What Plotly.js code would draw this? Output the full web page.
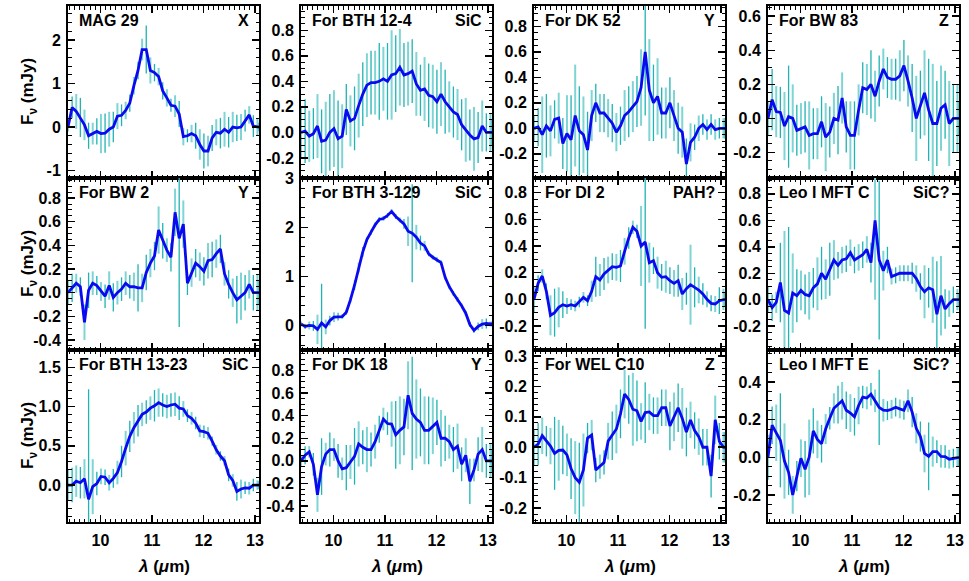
<!DOCTYPE html>
<html>
<head>
<meta charset="utf-8">
<script src="https://cdn.plot.ly/plotly-3.0.1.min.js"></script>
<style>body{margin:0;background:#fff}</style>
</head>
<body>
<div id="spectra" style="width:969px;height:581px"></div>
<script>
// wavelength grid (micron), shared by all panels
var wl = [9.37, 9.45, 9.53, 9.61, 9.69, 9.77, 9.85, 9.93, 10.01, 10.09,
  10.17, 10.25, 10.33, 10.41, 10.49, 10.57, 10.65, 10.73, 10.81, 10.89,
  10.97, 11.05, 11.13, 11.21, 11.29, 11.37, 11.45, 11.53, 11.61, 11.69,
  11.77, 11.85, 11.93, 12.01, 12.09, 12.17, 12.25, 12.33, 12.41, 12.49,
  12.57, 12.65, 12.73, 12.81, 12.89, 12.97, 13.05, 13.08]

// flux (mJy) and errors, one pair per star
var mag29 = [0.0, 0.45, 0.36, 0.22, 0.05, -0.2, -0.15, -0.1, -0.15, -0.14,
  -0.05, 0.0, 0.25, 0.27, 0.38, 0.55, 0.95, 1.3, 1.78, 1.78,
  1.3, 1.25, 1.16, 0.83, 0.67, 0.5, 0.48, 0.3, -0.22, -0.2,
  -0.15, -0.2, -0.4, -0.55, -0.55, -0.25, -0.12, -0.14, -0.05, -0.12,
  0.0, -0.02, 0.0, 0.15, 0.28, 0.02, 0.0, 0.0]
var err_mag29 = [0.1,0.25,0.4,0.45,0.35,0.3,0.25,0.3,0.45,0.45, 0.4,0.35,0.3,0.25,0.2,0.2,0.2,0.2,0.25,0.55,
  0.3,0.2,0.2,0.2,0.2,0.15,0.25,0.3,0.2,0.15, 0.2,0.3,0.35,0.4,0.35,0.3,0.3,0.35,0.4,0.35, 0.35,0.3,0.3,0.25,0.2,0.25,0.2,0.1]

var bth124 = [0.0, 0.01, -0.03, -0.01, 0.05, -0.07, -0.06, 0.0, 0.03, -0.05,
  -0.03, 0.18, 0.09, 0.11, 0.21, 0.3, 0.37, 0.39, 0.39, 0.4,
  0.42, 0.4, 0.45, 0.46, 0.51, 0.45, 0.46, 0.48, 0.38, 0.33,
  0.34, 0.29, 0.28, 0.24, 0.3, 0.24, 0.2, 0.16, 0.14, 0.06,
  0.02, -0.02, -0.05, -0.04, 0.05, 0.0, 0.0, 0.0]
var err_bth124 = [0.2,0.25,0.2,0.2,0.25,0.25,0.3,0.3,0.3,0.3, 0.25,0.2,0.2,0.25,0.25,0.25,0.25,0.25,0.25,0.3,
  0.25,0.3,0.35,0.3,0.3,0.25,0.25,0.25,0.25,0.2, 0.25,0.25,0.25,0.25,0.25,0.25,0.2,0.2,0.2,0.2, 0.25,0.2,0.25,0.2,0.2,0.15,0.15,0.1]

var dk52 = [0.0, 0.01, -0.05, 0.02, -0.02, 0.07, 0.08, -0.12, -0.04, -0.09,
  0.1, -0.02, -0.05, -0.17, 0.1, 0.2, 0.12, 0.12, 0.08, 0.04,
  -0.03, 0.02, 0.1, 0.13, 0.17, 0.21, 0.32, 0.6, 0.3, 0.2,
  0.25, 0.12, 0.12, 0.2, 0.1, 0.0, -0.03, -0.28, -0.11, -0.07,
  0.0, 0.03, -0.01, 0.03, -0.01, 0.0, 0.0, 0.0]
var err_dk52 = [0.1,0.15,0.3,0.25,0.2,0.15,0.2,0.2,0.3,0.35, 0.4,0.35,0.3,0.3,0.2,0.15,0.15,0.15,0.15,0.15,
  0.15,0.15,0.2,0.2,0.2,0.2,0.3,0.5,0.4,0.3, 0.3,0.2,0.2,0.2,0.2,0.2,0.2,0.2,0.15,0.1, 0.1,0.08,0.08,0.08,0.08,0.08,0.08,0.08]

var bw83 = [0.0, 0.11, 0.04, 0.035, -0.045, 0.01, 0.0, -0.07, -0.06, -0.05,
  -0.1, -0.09, -0.09, -0.02, -0.11, -0.08, 0.0, -0.01, 0.12, -0.05,
  -0.1, -0.1, 0.05, 0.18, 0.17, 0.2, 0.13, 0.22, 0.29, 0.24,
  0.23, 0.23, 0.25, 0.31, 0.22, 0.12, 0.0, 0.08, 0.15, 0.05,
  -0.03, -0.03, 0.06, 0.08, -0.03, 0.0, 0.0, 0.0]
var err_bw83 = [0.1,0.18,0.15,0.15,0.2,0.3,0.2,0.15,0.15,0.15, 0.2,0.15,0.15,0.15,0.2,0.15,0.15,0.2,0.15,0.15,
  0.2,0.2,0.15,0.15,0.15,0.2,0.15,0.15,0.12,0.12, 0.12,0.12,0.15,0.15,0.15,0.2,0.25,0.2,0.25,0.3, 0.35,0.25,0.25,0.2,0.25,0.2,0.2,0.1]

var bw2 = [0.0, 0.04, 0.08, 0.05, -0.25, 0.02, 0.08, 0.06, 0.01, -0.03,
  0.06, -0.04, 0.0, 0.03, 0.08, 0.05, 0.05, 0.04, 0.04, 0.17,
  0.25, 0.31, 0.53, 0.44, 0.36, 0.3, 0.68, 0.46, 0.58, 0.08,
  0.17, 0.25, 0.22, 0.18, 0.27, 0.28, 0.33, 0.37, 0.16, 0.07,
  0.0, -0.06, -0.03, 0.0, 0.07, 0.0, 0.0, 0.0]
var err_bw2 = [0.1,0.12,0.08,0.08,0.15,0.15,0.1,0.08,0.08,0.1, 0.12,0.12,0.1,0.1,0.1,0.1,0.12,0.2,0.12,0.15,
  0.12,0.12,0.2,0.15,0.1,0.12,0.2,0.75,0.2,0.1, 0.12,0.12,0.12,0.12,0.15,0.15,0.12,0.12,0.1,0.12, 0.12,0.2,0.2,0.15,0.12,0.15,0.15,0.1]

var bth3129 = [0.03, -0.02, 0.0, -0.01, -0.08, 0.05, -0.03, 0.1, 0.17, 0.18,
  0.18, 0.27, 0.52, 0.82, 1.18, 1.5, 1.75, 1.9, 2.05, 2.16,
  2.18, 2.24, 2.32, 2.22, 2.15, 2.07, 1.92, 1.88, 1.8, 1.68,
  1.62, 1.46, 1.39, 1.34, 1.28, 0.98, 0.79, 0.65, 0.53, 0.4,
  0.25, 0.02, -0.1, -0.02, 0.03, 0.04, 0.03, 0.03]
var err_bth3129 = [0.05,0.05,0.08,0.1,0.3,0.8,0.15,0.1,0.1,0.08, 0.05,0.05,0.05,0.1,0.1,0.1,0.05,0.05,0.05,0.05,
  0.05,0.05,0.05,0.05,0.05,0.1,0.3,1.0,0.25,0.15, 0.1,0.05,0.05,0.05,0.05,0.05,0.05,0.05,0.05,0.05, 0.05,0.05,0.05,0.08,0.1,0.1,0.05,0.05]

var di2 = [0.0, 0.12, 0.175, 0.06, -0.12, -0.1, -0.06, -0.04, -0.05, -0.04,
  -0.05, -0.02, 0.015, -0.01, 0.06, 0.17, 0.145, 0.19, 0.22, 0.245,
  0.24, 0.25, 0.36, 0.46, 0.54, 0.51, 0.4, 0.43, 0.275, 0.29,
  0.2, 0.165, 0.17, 0.14, 0.12, 0.14, 0.04, 0.08, 0.11, 0.09,
  0.07, 0.04, 0.0, -0.03, -0.035, -0.01, 0.0, 0.0]
var err_di2 = [0.1,0.06,0.05,0.06,0.15,0.18,0.15,0.1,0.06,0.04, 0.04,0.04,0.04,0.04,0.08,0.15,0.12,0.12,0.1,0.1,
  0.1,0.12,0.1,0.08,0.05,0.05,0.3,0.65,0.15,0.1, 0.12,0.1,0.12,0.1,0.1,0.12,0.12,0.12,0.3,0.15, 0.1,0.08,0.06,0.06,0.06,0.1,0.08,0.05]

var leoC = [0.0, -0.06, -0.02, 0.13, -0.08, -0.1, 0.05, 0.03, 0.07, 0.04,
  0.03, 0.09, 0.12, 0.2, 0.155, 0.23, 0.3, 0.26, 0.3, 0.31,
  0.355, 0.3, 0.32, 0.34, 0.38, 0.28, 0.6, 0.3, 0.22, 0.3,
  0.175, 0.185, 0.2, 0.2, 0.2, 0.2, 0.16, 0.1, 0.06, 0.09,
  0.075, -0.11, 0.03, -0.07, -0.03, 0.0, 0.0, 0.0]
var err_leoC = [0.1,0.1,0.08,0.3,0.6,0.65,0.3,0.2,0.15,0.15, 0.18,0.15,0.2,0.2,0.15,0.2,0.15,0.1,0.1,0.1,
  0.1,0.1,0.1,0.1,0.1,0.15,0.6,0.6,0.15,0.1, 0.06,0.06,0.06,0.06,0.06,0.08,0.1,0.1,0.2,0.15, 0.25,0.4,0.3,0.15,0.1,0.1,0.08,0.05]

var bth1323 = [0.0, 0.0, 0.05, 0.03, 0.08, -0.18, -0.02, 0.02, 0.11, 0.1,
  0.03, 0.085, 0.16, 0.3, 0.47, 0.62, 0.73, 0.82, 0.9, 0.93,
  0.98, 1.01, 1.05, 1.02, 1.0, 1.02, 1.03, 0.98, 0.97, 0.885,
  0.85, 0.79, 0.69, 0.68, 0.66, 0.56, 0.45, 0.37, 0.31, 0.13,
  0.06, -0.08, -0.05, -0.035, -0.04, 0.0, 0.0, 0.0]
var err_bth1323 = [0.2,0.22,0.2,0.2,0.25,1.4,0.35,0.15,0.1,0.1, 0.1,0.12,0.15,0.2,0.22,0.2,0.2,0.2,0.15,0.15,
  0.15,0.2,0.18,0.15,0.15,0.15,0.15,0.15,0.1,0.08, 0.08,0.08,0.08,0.08,0.08,0.06,0.06,0.06,0.06,0.08, 0.08,0.12,0.12,0.08,0.08,0.08,0.06,0.05]

var dk18 = [0.0, 0.05, 0.08, -0.03, -0.3, -0.05, 0.06, 0.1, 0.1, 0.0,
  -0.07, -0.06, -0.01, 0.04, 0.15, 0.12, 0.1, 0.1, 0.17, 0.28,
  0.37, 0.33, 0.325, 0.23, 0.27, 0.3, 0.58, 0.42, 0.37, 0.34,
  0.27, 0.27, 0.31, 0.34, 0.2, 0.2, 0.17, 0.1, 0.13, -0.03,
  0.05, -0.18, -0.08, 0.06, 0.1, 0.0, 0.0, 0.0]
var err_dk18 = [0.05,0.08,0.05,0.1,0.15,0.25,0.1,0.15,0.1,0.15, 0.1,0.2,0.15,0.25,0.2,0.15,0.2,0.15,0.15,0.12,
  0.1,0.1,0.2,0.3,0.3,0.25,0.3,0.5,0.35,0.3, 0.3,0.3,0.25,0.2,0.25,0.2,0.15,0.2,0.2,0.15, 0.15,0.2,0.1,0.15,0.2,0.15,0.15,0.1]

var welc10 = [0.0, 0.01, 0.038, 0.02, 0.004, -0.02, -0.01, -0.009, -0.025, -0.07,
  -0.1, -0.115, -0.075, 0.03, 0.04, -0.075, -0.064, -0.05, 0.02, 0.038,
  0.06, 0.11, 0.175, 0.157, 0.125, 0.12, 0.085, 0.114, 0.116, 0.104,
  0.104, 0.13, 0.13, 0.07, 0.1, 0.13, 0.095, 0.05, 0.09, 0.055,
  0.035, 0.0, 0.0, -0.095, 0.09, 0.02, 0.0, 0.0]
var err_welc10 = [0.06,0.07,0.06,0.05,0.06,0.12,0.1,0.08,0.07,0.1, 0.12,0.13,0.12,0.05,0.05,0.04,0.04,0.04,0.06,0.08,
  0.08,0.08,0.08,0.08,0.12,0.1,0.06,0.1,0.06,0.06, 0.06,0.06,0.06,0.08,0.08,0.08,0.1,0.08,0.06,0.06, 0.06,0.06,0.06,0.07,0.08,0.06,0.05,0.05]

var leoE = [0.0, 0.17, 0.13, 0.09, -0.02, -0.08, -0.2, -0.1, -0.005, -0.064,
  0.0, 0.14, 0.095, 0.072, 0.15, 0.207, 0.26, 0.28, 0.3, 0.25,
  0.235, 0.215, 0.275, 0.32, 0.315, 0.335, 0.3, 0.265, 0.25, 0.248,
  0.255, 0.266, 0.257, 0.25, 0.3, 0.24, 0.154, 0.11, 0.02, 0.005,
  0.03, 0.03, 0.005, 0.004, -0.01, -0.005, 0.0, 0.0]
var err_leoE = [0.12,0.1,0.15,0.25,0.2,0.12,0.1,0.08,0.1,0.15, 0.2,0.12,0.1,0.1,0.08,0.06,0.08,0.1,0.1,0.1,
  0.1,0.1,0.1,0.06,0.06,0.06,0.06,0.2,0.06,0.05, 0.05,0.05,0.05,0.05,0.06,0.08,0.08,0.08,0.1,0.18, 0.08,0.06,0.06,0.06,0.05,0.05,0.05,0.05]

var names = ['MAG 29', 'For BTH 12-4', 'For DK 52', 'For BW 83',
  'For BW 2', 'For BTH 3-129', 'For DI 2', 'Leo I MFT C',
  'For BTH 13-23', 'For DK 18', 'For WEL C10', 'Leo I MFT E']
var classes = ['X', 'SiC', 'Y', 'Z', 'Y', 'SiC', 'PAH?', 'SiC?', 'SiC', 'Y', 'Z', 'SiC?']
var fluxes = [mag29, bth124, dk52, bw83, bw2, bth3129, di2, leoC, bth1323, dk18, welc10, leoE]
var errors = [err_mag29, err_bth124, err_dk52, err_bw83, err_bw2, err_bth3129, err_di2, err_leoC,
  err_bth1323, err_dk18, err_welc10, err_leoE]

// y axis setup per panel: range, major step, minor step, decimals
var yRanges = [[-1.17, 2.78], [-0.357, 0.99], [-0.39, 0.96], [-0.35, 0.66],
  [-0.485, 0.97], [-0.5, 3.005], [-0.38, 0.91], [-0.38, 0.92],
  [-0.47, 1.72], [-0.54, 0.98], [-0.246, 0.32], [-0.344, 0.57]]
var yStep = [1, 0.2, 0.2, 0.2, 0.2, 1, 0.2, 0.2, 0.5, 0.2, 0.1, 0.2]
var yMinor = [0.2, 0.05, 0.05, 0.05, 0.05, 0.2, 0.05, 0.05, 0.1, 0.05, 0.02, 0.05]
var yDec = [0, 1, 1, 1, 1, 0, 1, 1, 1, 1, 1, 1]

var W = 969, H = 581
var colPx = [[68, 259], [301, 492], [534, 725], [768, 959]]
var rowPx = [[6, 178], [178, 350], [350, 522]]
var FONT = 'Liberation Sans, Arial, Helvetica, sans-serif'

var data = []
var layout = {
  width: W, height: H,
  margin: {l: 0, r: 0, t: 0, b: 0},
  showlegend: false,
  paper_bgcolor: 'white', plot_bgcolor: 'white',
  font: {family: FONT, color: 'black'},
  annotations: []
}

function makeTicks(rng, step, dec){
  var vals = [], txt = []
  var k0 = Math.ceil(rng[0]/step - 1e-6), k1 = Math.floor(rng[1]/step + 1e-6)
  for (var k = k0; k <= k1; k++){
    var v = k*step
    if (Math.abs(v) < 1e-9) v = 0
    vals.push(v)
    txt.push(v.toFixed(dec))
  }
  return {vals: vals, txt: txt}
}

for (var i = 0; i < 12; i++){
  var r = Math.floor(i/4), c = i % 4
  var s = i == 0 ? '' : String(i+1)
  var f = fluxes[i], e = errors[i]

  // error bars, alternating light / dark cyan
  var xa = [], ya = [], ea = [], xb = [], yb = [], eb = []
  for (var j = 0; j < wl.length; j++){
    if (j % 2 == 0){ xa.push(wl[j]); ya.push(f[j]); ea.push(e[j]) }
    else { xb.push(wl[j]); yb.push(f[j]); eb.push(e[j]) }
  }
  data.push({x: xa, y: ya, xaxis: 'x'+s, yaxis: 'y'+s, mode: 'markers',
    marker: {size: 1, color: 'rgba(0,0,0,0)'}, hoverinfo: 'skip',
    error_y: {type: 'data', array: ea, color: '#7fd4d4', thickness: 2, width: 0}})
  data.push({x: xb, y: yb, xaxis: 'x'+s, yaxis: 'y'+s, mode: 'markers',
    marker: {size: 1, color: 'rgba(0,0,0,0)'}, hoverinfo: 'skip',
    error_y: {type: 'data', array: eb, color: '#1fb3b3', thickness: 1.3, width: 0}})
  data.push({x: wl, y: f, xaxis: 'x'+s, yaxis: 'y'+s, mode: 'lines',
    line: {color: '#0a0af0', width: 2.8}})

  var t = makeTicks(yRanges[i], yStep[i], yDec[i])
  layout['xaxis'+s] = {
    domain: [colPx[c][0]/W, colPx[c][1]/W], anchor: 'y'+s,
    range: [9.37, 13.08], dtick: 1, tick0: 0,
    showline: true, linecolor: 'black', linewidth: 2, mirror: 'allticks',
    ticks: 'inside', ticklen: 7, tickwidth: 1.5, tickcolor: 'black',
    minor: {dtick: 0.1, tick0: 0, ticks: 'inside', ticklen: 3.5, tickwidth: 1, tickcolor: 'black', showgrid: false},
    showgrid: false, zeroline: false,
    showticklabels: r == 2, ticklabelstandoff: 3,
    tickfont: {family: FONT, size: 16, weight: 'bold'}
  }
  layout['yaxis'+s] = {
    domain: [1 - rowPx[r][1]/H, 1 - rowPx[r][0]/H], anchor: 'x'+s,
    range: yRanges[i], tickmode: 'array', tickvals: t.vals, ticktext: t.txt,
    showline: true, linecolor: 'black', linewidth: 2, mirror: 'allticks',
    ticks: 'inside', ticklen: 7, tickwidth: 1.5, tickcolor: 'black',
    minor: {dtick: yMinor[i], tick0: 0, ticks: 'inside', ticklen: 3.5, tickwidth: 1, tickcolor: 'black', showgrid: false},
    showgrid: false, zeroline: false, ticklabelstandoff: 2,
    tickfont: {family: FONT, size: 16, weight: 'bold'}
  }

  layout.annotations.push({text: names[i], xref: 'x'+s+' domain', yref: 'y'+s+' domain',
    x: 0, y: 1, xanchor: 'left', yanchor: 'top', xshift: 9, yshift: -4, showarrow: false,
    font: {family: FONT, size: 16, weight: 'bold'}})
  layout.annotations.push({text: classes[i], xref: 'x'+s+' domain', yref: 'y'+s+' domain',
    x: 1, y: 1, xanchor: 'right', yanchor: 'top', xshift: -8, yshift: -4, showarrow: false,
    font: {family: FONT, size: 16, weight: 'bold'}})
}

// shared axis titles
for (var r = 0; r < 3; r++){
  layout.annotations.push({text: 'F<sub>ν</sub> (mJy)', xref: 'paper', yref: 'paper',
    x: 29/W, y: 1 - (rowPx[r][0] + rowPx[r][1])/2/H, xanchor: 'center', yanchor: 'middle',
    textangle: -90, showarrow: false, font: {family: FONT, size: 17, weight: 'bold'}})
}
for (var c = 0; c < 4; c++){
  layout.annotations.push({text: '<i>λ</i> (<i>μ</i>m)', xref: 'paper', yref: 'paper',
    x: (colPx[c][0] + colPx[c][1])/2/W, y: 1 - 566/H, xanchor: 'center', yanchor: 'middle',
    showarrow: false, font: {family: FONT, size: 17, weight: 'bold'}})
}

Plotly.newPlot('spectra', data, layout, {staticPlot: true})
</script>
</body>
</html>
